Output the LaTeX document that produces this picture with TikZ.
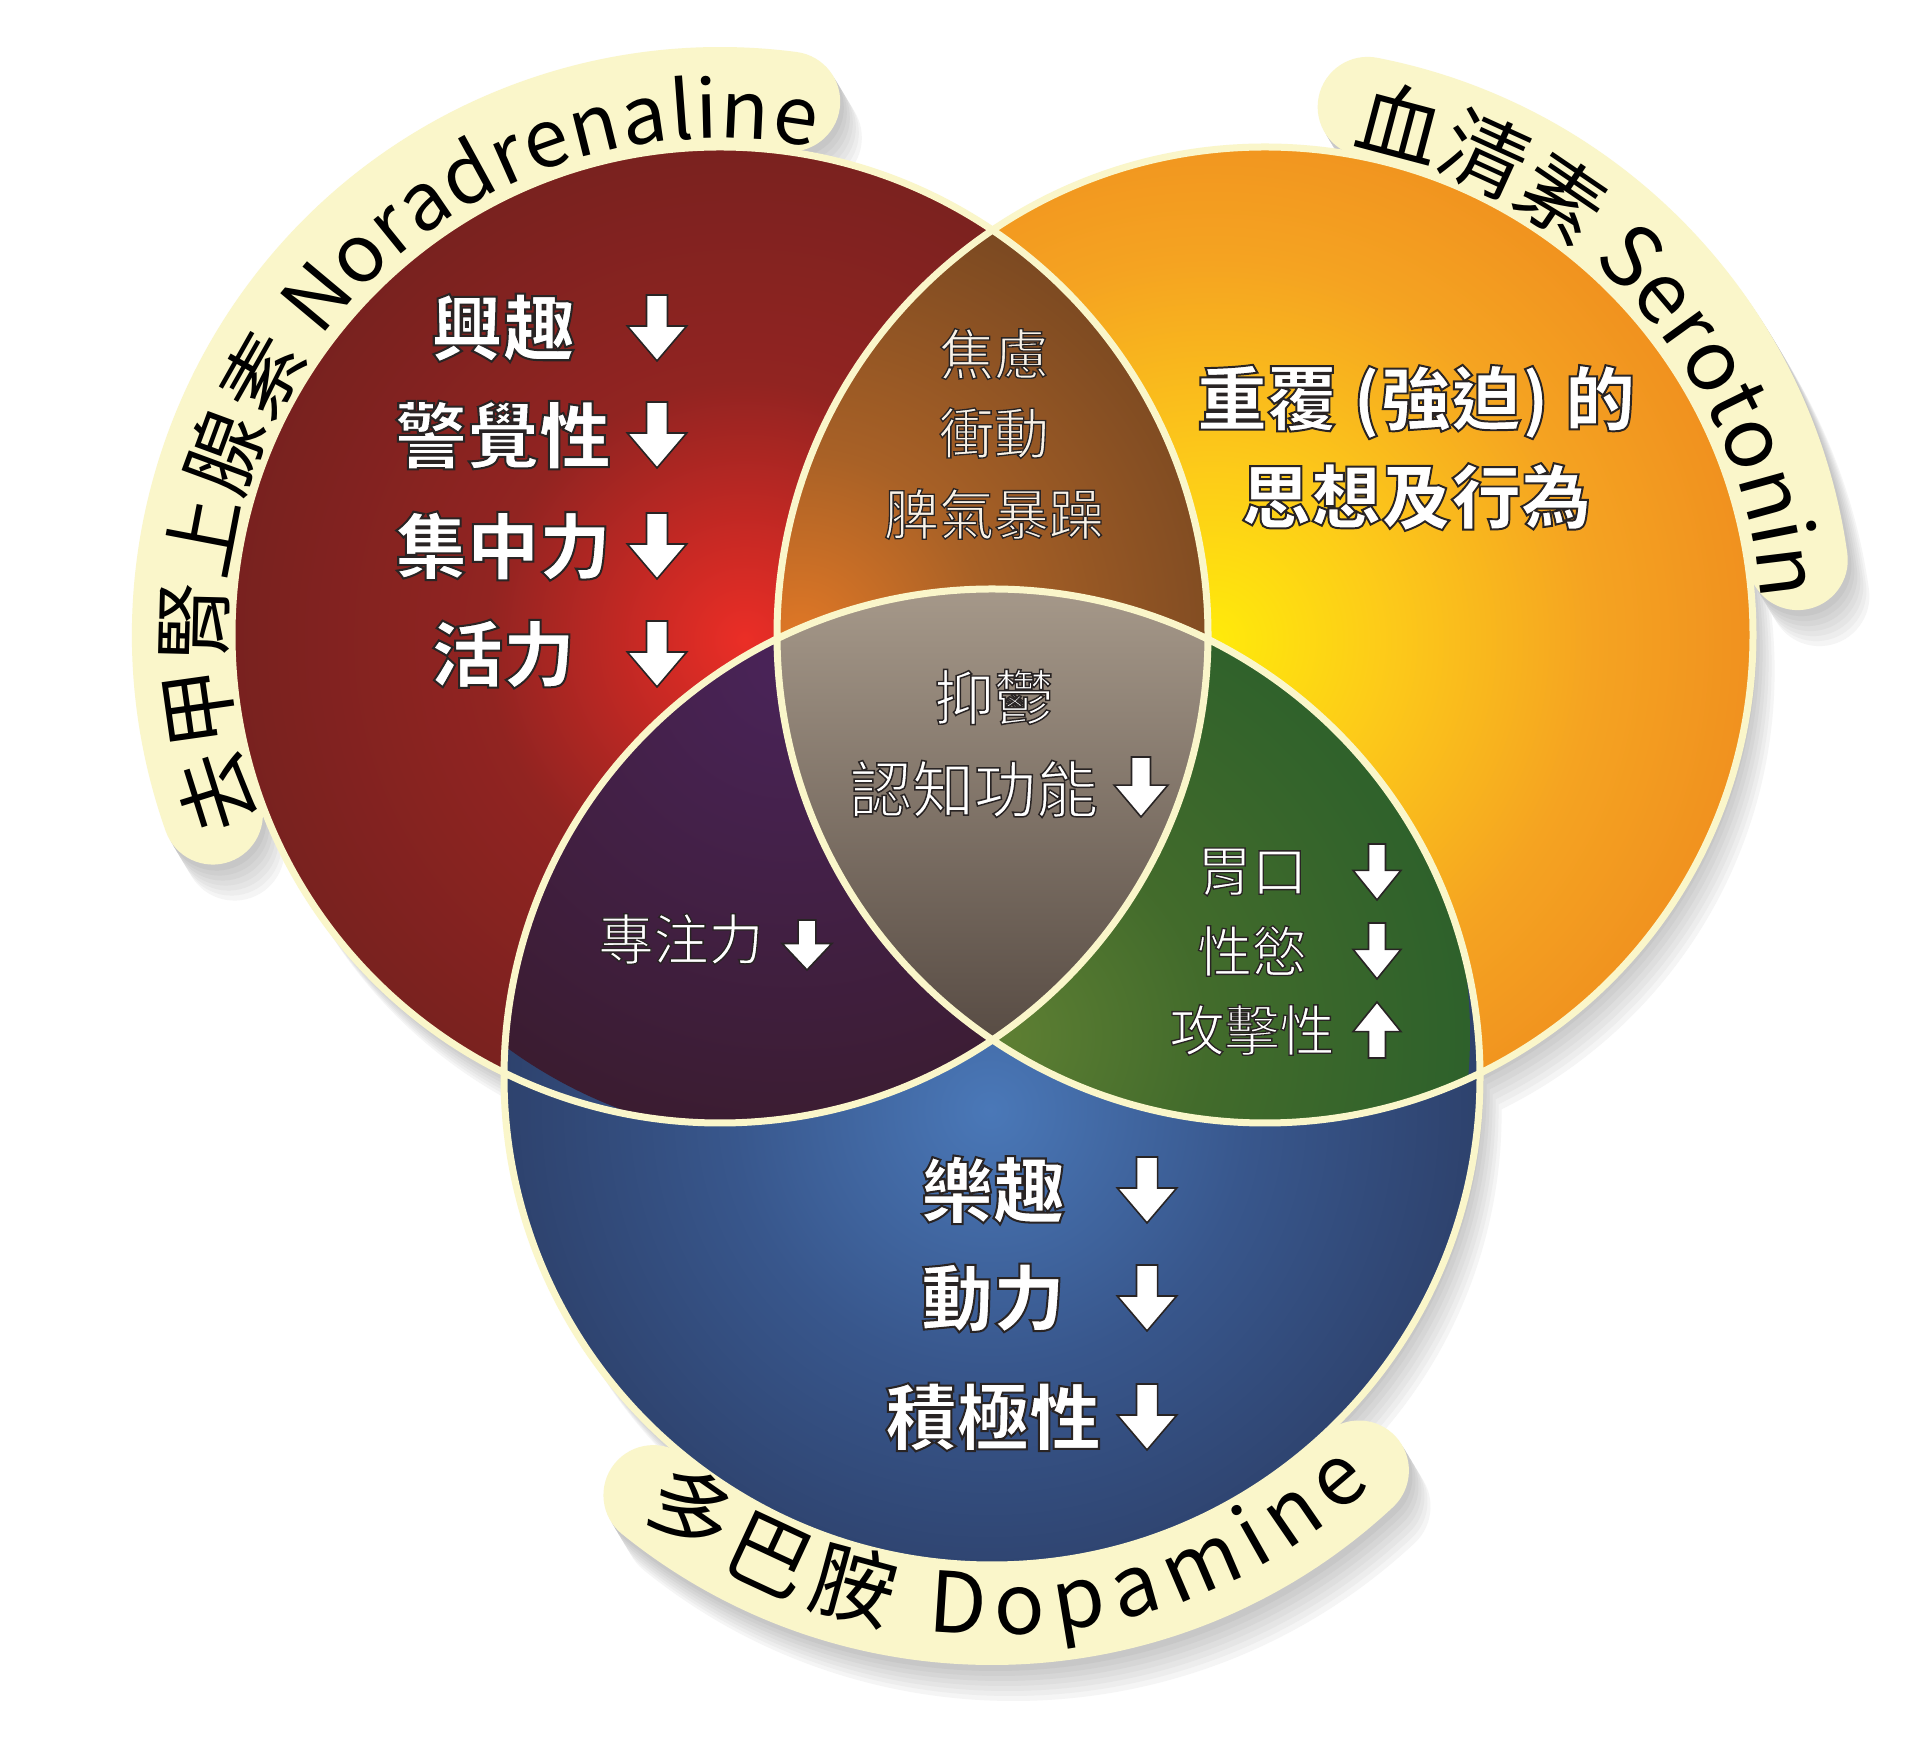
\documentclass[tikz,border=0pt]{standalone}
\usepackage{fontspec}
\newfontfamily\cjk{Noto Sans CJK TC}
\newfontfamily\cjkrim{Noto Sans CJK TC}[UprightFeatures={FakeBold=2.4}, BoldFeatures={FakeBold=2.8}]
\usetikzlibrary{calc,decorations.text}

\definecolor{cream}{RGB}{250,246,202}
\definecolor{edge}{RGB}{40,36,36}
\definecolor{paletext}{RGB}{248,242,232}
\definecolor{greytop}{RGB}{166,153,138}
\definecolor{greybot}{RGB}{88,76,68}

\pgfdeclareradialshading{redglow}{\pgfpointorigin}{%
  rgb(0bp)=(0.92,0.18,0.15); rgb(5bp)=(0.78,0.16,0.14); rgb(12bp)=(0.57,0.14,0.13);
  rgb(25bp)=(0.46,0.13,0.12); rgb(50bp)=(0.46,0.13,0.12)}
\pgfdeclareradialshading{yellowglow}{\pgfpointorigin}{%
  rgb(0bp)=(1,0.92,0.04); rgb(8bp)=(0.99,0.79,0.10); rgb(17bp)=(0.96,0.64,0.13);
  rgb(25bp)=(0.94,0.56,0.12); rgb(50bp)=(0.94,0.56,0.12)}
\pgfdeclareradialshading{blueglow}{\pgfpointorigin}{%
  rgb(0bp)=(0.29,0.47,0.72); rgb(12bp)=(0.22,0.34,0.55);
  rgb(25bp)=(0.17,0.24,0.40); rgb(50bp)=(0.17,0.24,0.40)}
\pgfdeclareradialshading{brownglow}{\pgfpointorigin}{%
  rgb(0bp)=(0.88,0.47,0.15); rgb(10bp)=(0.66,0.38,0.15);
  rgb(25bp)=(0.47,0.28,0.13); rgb(50bp)=(0.47,0.28,0.13)}
\pgfdeclareradialshading{purpleglow}{\pgfpointorigin}{%
  rgb(0bp)=(0.29,0.14,0.35); rgb(25bp)=(0.23,0.11,0.19); rgb(50bp)=(0.23,0.11,0.19)}
\pgfdeclareradialshading{greenglow}{\pgfpointorigin}{%
  rgb(0bp)=(0.37,0.50,0.20); rgb(11bp)=(0.26,0.42,0.17);
  rgb(25bp)=(0.18,0.38,0.17); rgb(50bp)=(0.18,0.38,0.17)}

% dark rim on the stroked (fake bold) glyphs
\newcommand\rim{\special{pdf:literal direct 0.16 0.14 0.14 RG}}

\newcommand\bandarcs{($(red)+(199.5:538)$) arc[start angle=199.5, end angle=82.5, radius=538]
  ($(yel)+(79:538)$) arc[start angle=79, end angle=8, radius=538]
  ($(blu)+(231:538)$) arc[start angle=231, end angle=313, radius=538]}

\tikzset{
  bandstroke/.style={line width=100pt, line cap=round},
  bandtext/.style 2 args={decorate, decoration={text along path,
      text align={fit to path, right indent=3pt},
      text={|\cjk\fontsize{#1}{#1}\selectfont|#2{\kern1pt}}}},
  lbl/.style={inner sep=0pt, text=white},
  heavy/.style={lbl, font=\cjkrim\bfseries\fontsize{72}{72}\selectfont},
  plain/.style={lbl, font=\cjkrim\fontsize{55}{55}\selectfont},
  dnarrow/.pic={\filldraw[fill=white, draw=edge, line width=1.6pt]
    (-0.17,0.5) -- (0.17,0.5) -- (0.17,0.03) -- (0.48,0.03) -- (0,-0.5)
    -- (-0.48,0.03) -- (-0.17,0.03) -- cycle;}
}

\begin{document}
\begin{tikzpicture}[x=1pt, y=1pt]
  \fill[white] (0,0) rectangle (1920,1757);
  \useasboundingbox (0,0) rectangle (1920,1757);
  \coordinate (red) at (720,1122);
  \coordinate (yel) at (1265,1122);
  \coordinate (blu) at (992,680);

  % soft shadow
  \foreach \k/\c in {36/4,31/7,26/10,21/13,16/16,11/19,6/22}{
    \begin{scope}[transform canvas={shift={(0.6*\k,-\k)}}]
      \fill[black!\c] (red) circle[radius=488] (yel) circle[radius=488] (blu) circle[radius=488];
      \draw[black!\c, bandstroke] \bandarcs;
    \end{scope}}

  % label bands
  \draw[cream, bandstroke] \bandarcs;

  % the three circles
  \begin{scope}
    \clip (red) circle[radius=488];
    \shade[shading=redglow] (745,1117) circle[radius=540];
  \end{scope}
  \begin{scope}
    \clip (yel) circle[radius=488];
    \shade[shading=yellowglow] (1212,1117) circle[radius=560];
  \end{scope}
  \begin{scope}
    \clip (blu) circle[radius=488];
    \shade[shading=blueglow] (990,647) circle[radius=540];
  \end{scope}

  % overlaps
  \begin{scope}
    \clip (red) circle[radius=488];
    \clip (yel) circle[radius=488];
    \shade[shading=brownglow] (800,1117) circle[radius=470];
  \end{scope}
  \begin{scope}
    \clip (red) circle[radius=488];
    \clip (blu) circle[radius=488];
    \shade[shading=purpleglow] (790,1097) circle[radius=480];
  \end{scope}
  \begin{scope}
    \clip (yel) circle[radius=488];
    \clip (blu) circle[radius=488];
    \shade[shading=greenglow] (1000,722) circle[radius=470];
  \end{scope}
  \begin{scope}
    \clip (red) circle[radius=488];
    \clip (yel) circle[radius=488];
    \clip (blu) circle[radius=488];
    \shade[top color=greytop, bottom color=greybot] (770,717) rectangle (1215,1172);
  \end{scope}

  \draw[cream, line width=7pt] (red) circle[radius=488] (yel) circle[radius=488] (blu) circle[radius=488];

  % band titles
  \path[bandtext={80}{去甲腎上腺素 Noradrenaline}]
    ($(red)+(202:497)$) arc[start angle=202, end angle=78.5, radius=497];
  \path[bandtext={84}{血清素 Serotonin}]
    ($(yel)+(80:497)$) arc[start angle=80, end angle=6.5, radius=497];
  \path[bandtext={84}{多巴胺 Dopamine}]
    ($(blu)+(231:558)$) arc[start angle=231, end angle=314.5, radius=558];

  % noradrenaline only
  \node[heavy] (interest) at (503,1429) {\rim 興趣};
  \node[heavy] (alert) at (503,1322) {\rim 警覺性};
  \node[heavy] (focus) at (503,1211) {\rim 集中力};
  \node[heavy] (vigor) at (503,1103) {\rim 活力};
  \foreach \y in {1429,1322,1211,1103}
    \pic[xscale=62, yscale=66] at (657,\y) {dnarrow};

  % noradrenaline + serotonin
  \node[plain, text=paletext] (anxiety) at (994,1403) {\rim 焦慮};
  \node[plain, text=paletext] (impulse) at (994,1324) {\rim 衝動};
  \node[plain, text=paletext] (temper) at (994,1243) {\rim 脾氣暴躁};

  % serotonin only
  \node[heavy, font=\cjkrim\bfseries\fontsize{70}{70}\selectfont] (repeat) at (1416,1355) {\rim 重覆 (強迫) 的};
  \node[heavy, font=\cjkrim\bfseries\fontsize{70}{70}\selectfont] (thought) at (1416,1260) {\rim 思想及行為};

  % all three
  \node[plain, font=\cjkrim\fontsize{60}{60}\selectfont] (depress) at (994,1060) {\rim 抑鬱};
  \node[plain, font=\cjkrim\fontsize{62}{62}\selectfont] (cognition) at (974,968) {\rim 認知功能};
  \pic[xscale=56, yscale=60] at (1141,970) {dnarrow};

  % noradrenaline + dopamine
  \node[plain] (attention) at (681,818) {\rim 專注力};
  \pic[xscale=52, yscale=50] at (807,812) {dnarrow};

  % serotonin + dopamine
  \node[plain] (appetite) at (1252,885) {\rim 胃口};
  \node[plain] (libido) at (1252,806) {\rim 性慾};
  \node[plain] (aggression) at (1252,727) {\rim 攻擊性};
  \pic[xscale=50, yscale=56] at (1377,885) {dnarrow};
  \pic[xscale=50, yscale=56] at (1377,806) {dnarrow};
  \pic[xscale=50, yscale=-56] at (1377,727) {dnarrow};

  % dopamine only
  \node[heavy] (pleasure) at (993,567) {\rim 樂趣};
  \node[heavy] (drive) at (993,459) {\rim 動力};
  \node[heavy] (initiative) at (993,340) {\rim 積極性};
  \foreach \y in {567,459,340}
    \pic[xscale=62, yscale=66] at (1147,\y) {dnarrow};
\end{tikzpicture}
\end{document}
